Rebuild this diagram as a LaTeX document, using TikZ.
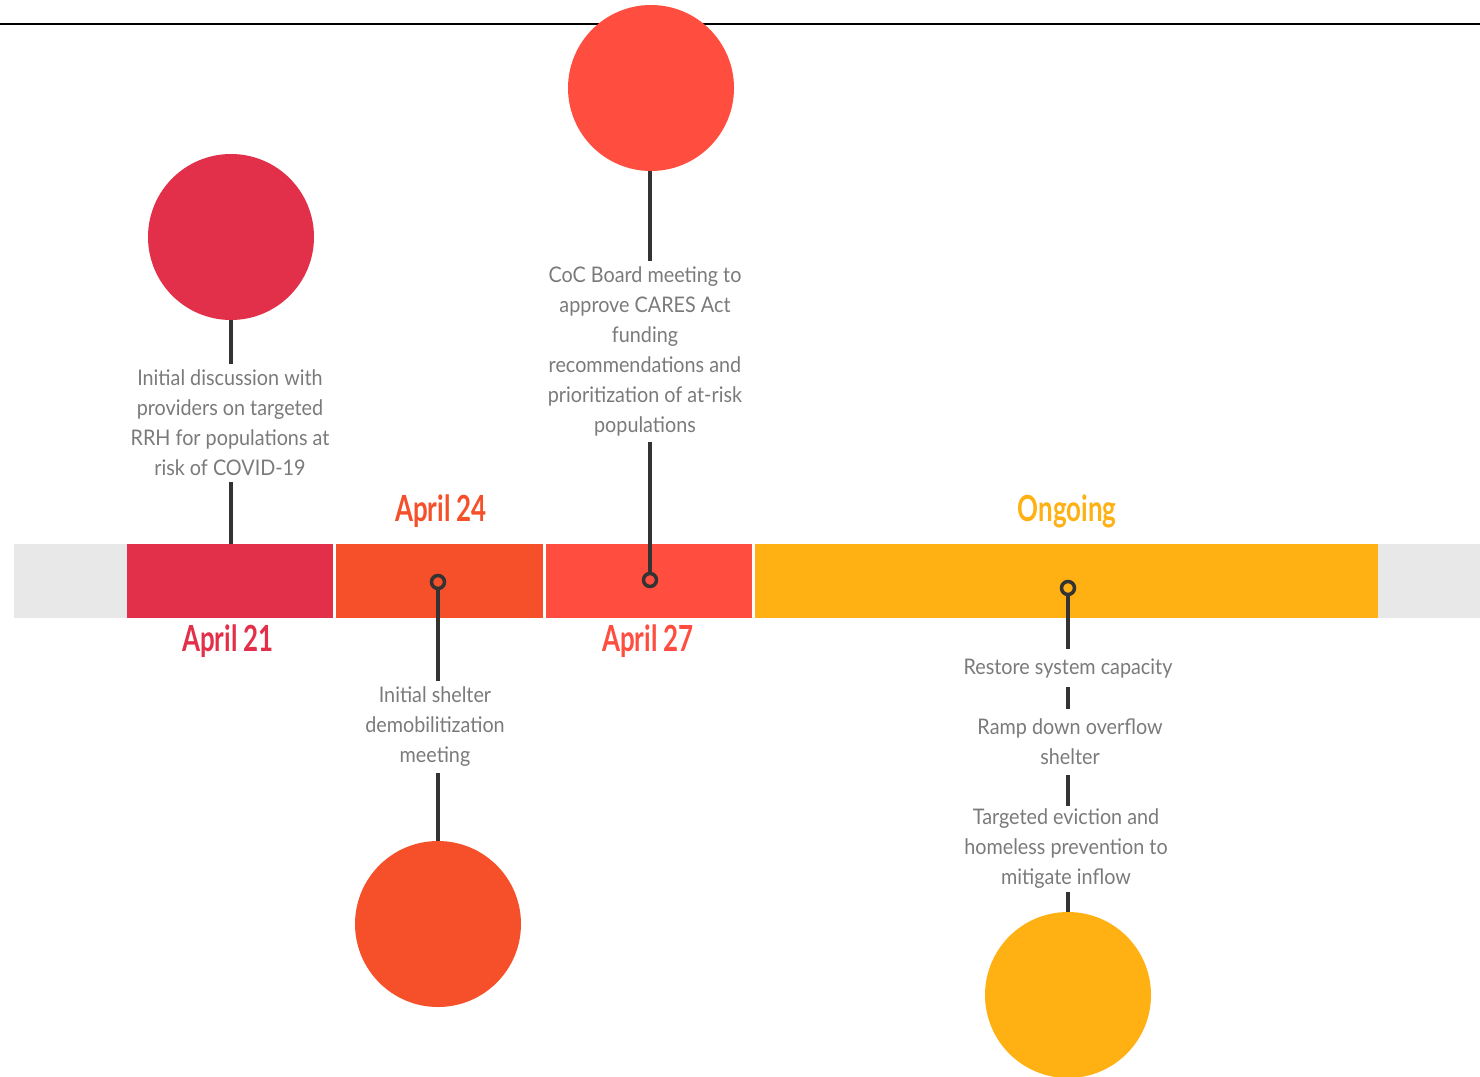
\documentclass[tikz,border=0pt]{standalone}
\usepackage{fontspec}
\setmainfont{Lato}[FakeStretch=0.92]
\newfontfamily\datefont{Lato}[FakeStretch=0.72]
\definecolor{cA}{HTML}{E3304A}
\definecolor{cB}{HTML}{F5502A}
\definecolor{cC}{HTML}{FF4D3F}
\definecolor{cD}{HTML}{FFB012}
\definecolor{bandgray}{HTML}{E8E8E8}
\definecolor{stemgray}{HTML}{333333}
\definecolor{notegray}{HTML}{7A7A7A}
\begin{document}
\begin{tikzpicture}[x=1pt,y=-1pt,
  stem/.style={draw=stemgray,line width=4pt},
  ring/.style={circle,draw=stemgray,line width=3.5pt,minimum size=13pt,inner sep=0},
  bigdot/.style={circle,minimum size=166pt,inner sep=0},
  note/.style={text=notegray,align=center,font=\fontsize{21.5}{30}\selectfont,inner xsep=0,inner ysep=6pt},
  datelbl/.style={font=\datefont\bfseries\fontsize{36}{40}\selectfont}]
\useasboundingbox (0,0) rectangle (1480,1076);

% top rule
\draw[line width=2pt] (0,24) -- (1480,24);

% timeline band
\fill[bandgray] (14,544) rectangle (127,618);
\fill[bandgray] (1378,544) rectangle (1480,618);
\fill[cA] (127,544) rectangle (333,618);
\fill[cB] (336,544) rectangle (543,618);
\fill[cC] (545.5,544) rectangle (752,618);
\fill[cD] (755,544) rectangle (1378,618);

% dates
\node[datelbl,text=cA] (d1) at (228,641) {April 21};
\node[datelbl,text=cB] (d2) at (441,511) {April 24};
\node[datelbl,text=cC] (d3) at (648,641) {April 27};
\node[datelbl,text=cD] (d4) at (1067,511) {Ongoing};

% April 21
\node[bigdot,fill=cA] (c1) at (231,237) {};
\node[note] (t1) at (230,423) {Initial discussion with\\providers on targeted\\RRH for populations at\\risk of COVID-19};
\coordinate (b1) at (231,544);
\draw[stem] (c1.south) -- (c1.south |- t1.north);
\draw[stem] (t1.south -| c1.south) -- (b1);

% April 24
\node[ring] (r2) at (438,582) {};
\node[note] (t2) at (435,727) {Initial shelter\\demobilitization\\meeting};
\node[bigdot,fill=cB] (c2) at (438,924) {};
\draw[stem] (r2.south) -- (r2.south |- t2.north);
\draw[stem] (c2.north |- t2.south) -- (c2.north);

% April 27
\node[bigdot,fill=cC] (c3) at (651,88) {};
\node[note] (t3) at (645,351.5) {CoC Board meeting to\\approve CARES Act\\funding\\recommendations and\\prioritization of at-risk\\populations};
\node[ring] (r3) at (650,580) {};
\draw[stem] (r3.north |- c3.south) -- (r3.north |- t3.north);
\draw[stem] (r3.north |- t3.south) -- (r3.north);

% Ongoing
\node[ring] (r4) at (1068,588) {};
\node[note,inner ysep=9pt] (t4a) at (1068,668) {Restore system capacity};
\node[note,inner ysep=10pt] (t4b) at (1070,742) {Ramp down overflow\\shelter};
\node[note,inner ysep=3pt] (t4c) at (1066,849) {Targeted eviction and\\homeless prevention to\\mitigate inflow};
\node[bigdot,fill=cD] (c4) at (1068,995) {};
\draw[stem] (r4.south) -- (r4.south |- t4a.north);
\draw[stem] (t4a.south -| r4.south) -- (t4b.north -| r4.south);
\draw[stem] (t4b.south -| r4.south) -- (t4c.north -| r4.south);
\draw[stem] (t4c.south -| r4.south) -- (c4.north);
\end{tikzpicture}
\end{document}
